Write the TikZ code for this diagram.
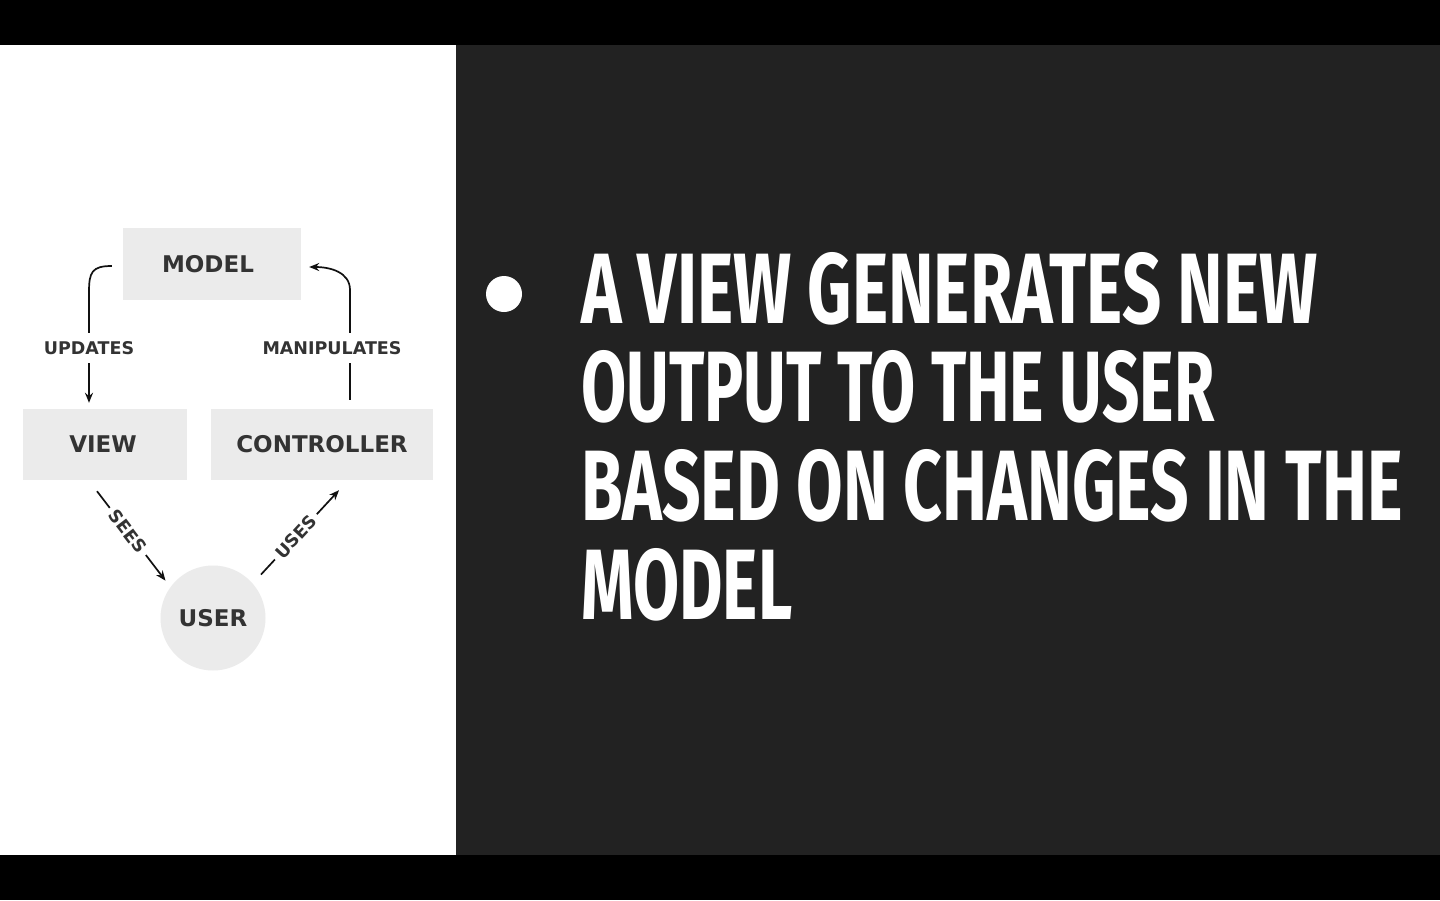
\documentclass[tikz,border=0pt]{standalone}
\usepackage{fontspec}
\usepackage{graphicx}
\usetikzlibrary{arrows.meta}
\newfontfamily\diagfont{DejaVu Sans}
\newfontfamily\slidefont{Fira Sans}
\definecolor{boxgrey}{HTML}{EBEBEB}
\definecolor{inkgrey}{HTML}{333333}
\definecolor{slidebg}{HTML}{222222}
\definecolor{arrowink}{HTML}{111111}
\begin{document}
\begin{tikzpicture}[x=1pt,y=-1pt,
  box/.style={fill=boxgrey, draw=none, inner sep=0pt, text=inkgrey,
    font={\diagfont\bfseries\fontsize{23pt}{23pt}\selectfont}},
  lbl/.style={fill=white, inner xsep=4pt, inner ysep=0pt, minimum height=30pt,
    text=inkgrey, font={\diagfont\bfseries\fontsize{17.5pt}{17.5pt}\selectfont}},
  slbl/.style={fill=white, inner xsep=5pt, inner ysep=2pt, sloped,
    text=inkgrey, font={\diagfont\bfseries\fontsize{17.5pt}{17.5pt}\selectfont}},
  conn/.style={draw=arrowink, line width=1.7pt, -{Stealth[length=10pt,width=8pt]}},
  line/.style={anchor=base west, inner sep=0pt, text=white}
]
\useasboundingbox (0,0) rectangle (1440,900);
% frame and the two panels
\fill[black] (0,0) rectangle (1440,900);
\fill[white] (0,45) rectangle (456,855);
\fill[slidebg] (456,45) rectangle (1440,855);

% MVC diagram
\node[box, minimum width=178pt, minimum height=72pt] (model) at (212,264) {\hspace*{-8pt}MODEL};
\node[box, minimum width=164pt, minimum height=71pt] (view) at (105,444.5) {\hspace*{-4pt}VIEW};
\node[box, minimum width=222pt, minimum height=71pt] (controller) at (322,444.5) {CONTROLLER};
\node[box, circle, minimum size=105pt] (user) at (213,618) {USER};

\draw[conn] ([xshift=-11pt,yshift=-2pt]model.west) .. controls (92,266) and (89,272) .. (89,292)
  -- ([xshift=-16pt,yshift=6pt]view.north);
\node[lbl] (updates) at (89,348) {UPDATES};

\draw[conn] ([xshift=28pt,yshift=9pt]controller.north) -- (350,290)
  .. controls (350,272) and (330,267) .. ([xshift=8pt,yshift=-3pt]model.east);
\node[lbl] (manipulates) at (332,348) {MANIPULATES};

\draw[conn, shorten >=8pt] ([xshift=-8pt,yshift=-11pt]view.south)
  -- node[slbl, pos=0.42] (sees) {SEES} (user.144);
\draw[conn, shorten <=12pt] (user.41)
  -- node[slbl, pos=0.5] (uses) {USES} ([xshift=17pt,yshift=-10pt]controller.south);

% bullet text
\node[circle, fill=white, minimum size=36pt, inner sep=0pt] (bullet) at (504,294) {};
\node[line] (l1) at (581,323) {\resizebox{736pt}{71pt}{\slidefont\bfseries A VIEW GENERATES NEW}};
\node[line] (l2) at (581,421) {\resizebox{633pt}{71pt}{\slidefont\bfseries OUTPUT TO THE USER}};
\node[line] (l3) at (581,520) {\resizebox{821pt}{71pt}{\slidefont\bfseries BASED ON CHANGES IN THE}};
\node[line] (l4) at (581,619) {\resizebox{211pt}{71pt}{\slidefont\bfseries MODEL}};
\end{tikzpicture}
\end{document}
